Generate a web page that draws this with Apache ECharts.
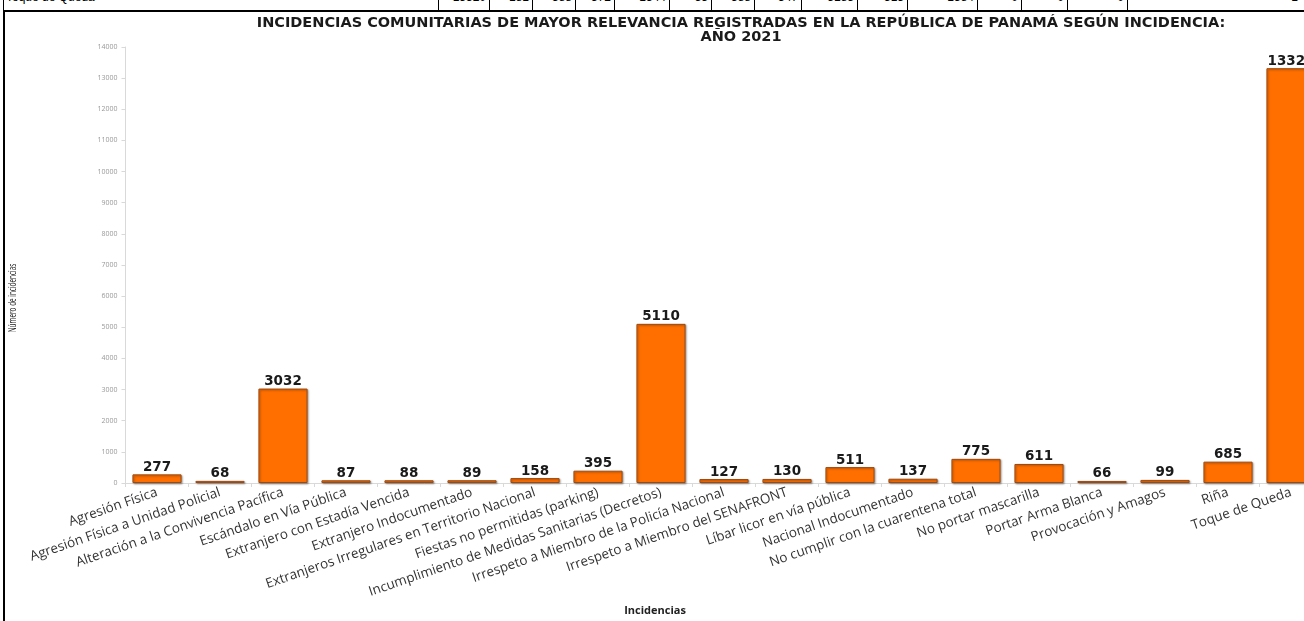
<!DOCTYPE html>
<html>
<head>
<meta charset="utf-8">
<script src="https://cdn.jsdelivr.net/npm/echarts@6/dist/echarts.min.js"></script>
<style>
  html, body { margin: 0; padding: 0; background: #fff; overflow: hidden; width: 1304px; height: 621px; }
  #chart { position: absolute; left: 0; top: 0; width: 1323px; height: 621px; z-index: 2; }
  .frame { position: absolute; left: 3px; top: 10px; width: 1310px; height: 620px; border: 2px solid #000; box-sizing: border-box; z-index: 1; }
  .row { position: absolute; left: 3px; top: -8px; height: 19px; width: 1310px; border: 1px solid #000; box-sizing: border-box; font-family: 'Liberation Sans', sans-serif; font-size: 12px; overflow: hidden; z-index: 1; }
  .cell { position: absolute; top: 0; height: 19px; border-left: 1px solid #000; text-align: right; padding-right: 3px; box-sizing: border-box; line-height: 9px; }
</style>
</head>
<body>
<div class="frame"></div>
<div class="row" id="row"></div>
<div id="chart"></div>
<script>
// incidencias y valores del año 2021
const categorias = [
  'Agresión Física',
  'Agresión Física a Unidad Policial',
  'Alteración a la Convivencia Pacífica',
  'Escándalo en Vía Pública',
  'Extranjero con Estadía Vencida',
  'Extranjero Indocumentado',
  'Extranjeros Irregulares en Territorio Nacional',
  'Fiestas no permitidas (parking)',
  'Incumplimiento de Medidas Sanitarias (Decretos)',
  'Irrespeto a Miembro de la Policía Nacional',
  'Irrespeto a Miembro del SENAFRONT',
  'Líbar licor en vía pública',
  'Nacional Indocumentado',
  'No cumplir con la cuarentena total',
  'No portar mascarilla',
  'Portar Arma Blanca',
  'Provocación y Amagos',
  'Riña',
  'Toque de Queda'
];
const valores = [277, 68, 3032, 87, 88, 89, 158, 395, 5110, 127, 130, 511, 137, 775, 611, 66, 99, 685, 13320];

// fila de tabla recortada arriba
const filaNombre = 'Toque de Queda';
const filaValores = ['13320', '181', '388', '372', '1344', '53', '388', '347', '5185', '513', '1384', '0', '0', '0', '1'];
const filaBordes = [437, 488, 531, 574, 613, 668, 710, 753, 800, 856, 906, 976, 1020, 1066, 1126, 1300];

const row = document.getElementById('row');
const nm = document.createElement('div');
nm.className = 'cell';
nm.style.left = '0px'; nm.style.width = '434px'; nm.style.borderLeft = 'none';
nm.style.textAlign = 'left'; nm.style.paddingLeft = '2px';
nm.textContent = filaNombre;
row.appendChild(nm);
filaValores.forEach((v, i) => {
  const c = document.createElement('div');
  c.className = 'cell';
  c.style.left = (filaBordes[i] - 3) + 'px';
  c.style.width = (filaBordes[i + 1] - filaBordes[i]) + 'px';
  c.textContent = v;
  row.appendChild(c);
});

const chart = echarts.init(document.getElementById('chart'));
const fuente = "'Open Sans', 'Liberation Sans', sans-serif";

chart.setOption({
  animation: false,
  title: {
    text: 'INCIDENCIAS COMUNITARIAS DE MAYOR RELEVANCIA REGISTRADAS EN LA REPÚBLICA DE PANAMÁ SEGÚN INCIDENCIA:\nAÑO 2021',
    left: 736,
    top: 11,
    textAlign: 'center',
    textStyle: {
      fontFamily: "'DejaVu Sans', sans-serif",
      fontSize: 14.5,
      fontWeight: 'bold',
      color: '#1a1a1a',
      lineHeight: 14
    }
  },
  graphic: [
    {
      type: 'text',
      x: 13,
      y: 298,
      rotation: Math.PI / 2,
      scaleX: 0.64,
      style: {
        text: 'Número de incidencias',
        fontFamily: fuente,
        fontSize: 10,
        fill: '#222',
        align: 'center',
        verticalAlign: 'middle'
      }
    },
    {
      type: 'text',
      x: 655,
      y: 611,
      style: {
        text: 'Incidencias',
        fontFamily: fuente,
        fontSize: 11,
        fontWeight: 'bold',
        fill: '#222',
        align: 'center',
        verticalAlign: 'middle'
      }
    }
  ],
  grid: {
    left: 125.5,
    right: 0.5,
    top: 47,
    bottom: 138
  },
  xAxis: {
    type: 'category',
    data: categorias,
    axisLine: { lineStyle: { color: '#d9d9d9' } },
    axisTick: { show: true, lineStyle: { color: '#d9d9d9' }, length: 4 },
    axisLabel: {
      interval: 0,
      rotate: 19,
      margin: 9,
      fontFamily: fuente,
      fontSize: 13.5,
      color: '#333'
    }
  },
  yAxis: {
    type: 'value',
    min: 0,
    max: 14000,
    interval: 1000,
    axisLine: { show: true, lineStyle: { color: '#d9d9d9' } },
    axisTick: { show: true, length: 4, lineStyle: { color: '#d9d9d9' } },
    splitLine: { show: false },
    axisLabel: {
      fontFamily: fuente,
      fontSize: 7,
      color: '#999',
      margin: 8,
      formatter: v => String(v)
    }
  },
  series: [{
    type: 'bar',
    data: valores,
    barCategoryGap: '22%',
    itemStyle: {
      color: '#ff6f00',
      borderColor: '#9c4a10',
      borderWidth: 1,
      shadowColor: 'rgba(0,0,0,0.35)',
      shadowBlur: 2,
      shadowOffsetX: 1,
      shadowOffsetY: 1
    },
    label: {
      show: true,
      position: 'top',
      distance: 0,
      fontFamily: "'DejaVu Sans', sans-serif",
      fontSize: 13.5,
      fontWeight: 'bold',
      color: '#1a1a1a'
    }
  }]
});
</script>
</body>
</html>
